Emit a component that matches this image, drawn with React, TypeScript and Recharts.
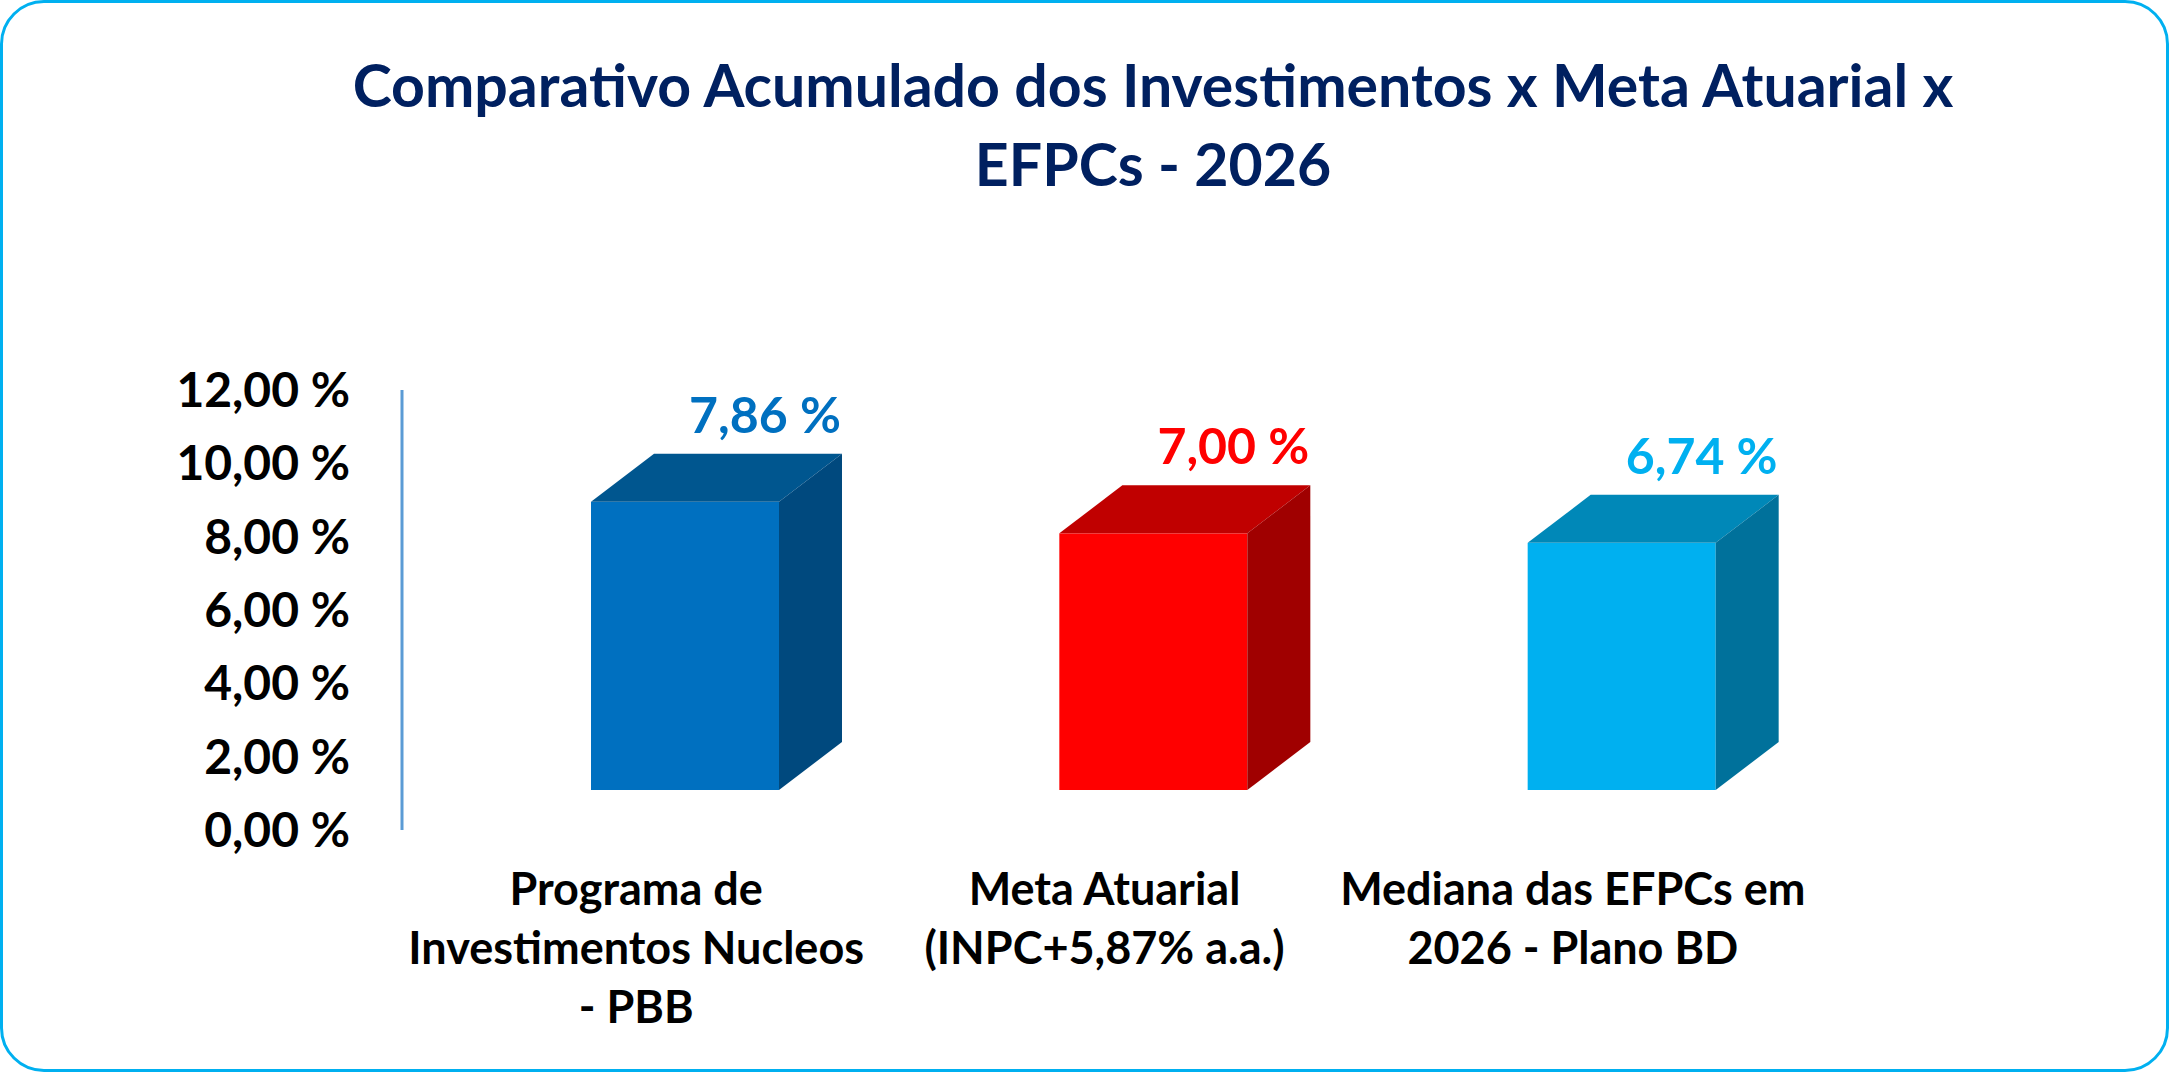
import { BarChart, Bar, XAxis, YAxis, LabelList, Cell } from 'recharts';

const TITLE_LINES = ['Comparativo Acumulado dos Investimentos x Meta Atuarial x', 'EFPCs - 2026'];
const CATEGORIES = [
    'Programa de\nInvestimentos Nucleos\n- PBB',
    'Meta Atuarial\n(INPC+5,87% a.a.)',
    'Mediana das EFPCs em\n2026 - Plano BD',
];
const VALUES = [7.86, 7.0, 6.74];
const Y_TICKS = [0, 2, 4, 6, 8, 10, 12];

// front / top / side shades for each box
const PALETTE = [
    { front: '#0070C0', top: '#00568F', side: '#00497E', label: '#0070C0' },
    { front: '#FF0000', top: '#C00000', side: '#A00000', label: '#FF0000' },
    { front: '#00B0F0', top: '#0088B8', side: '#00719B', label: '#00B0F0' },
];

const FONT = 'Lato, "Open Sans", sans-serif';
const W = 2169;
const H = 1072;

// excel-like 3d projection
const SHIFT_X = 49;
const FLOOR = 40;
const DEPTH_X = 63;
const DEPTH_Y = 48;

const data = CATEGORIES.map((name, i) => ({ name, value: VALUES[i] }));

const fmt = (v: number) => v.toFixed(2).replace('.', ',') + ' %';

function Box3D(props: any) {
    const { x, y, width, height, index } = props;
    const c = PALETTE[index];
    const fx = x + SHIFT_X;
    const fy = y - FLOOR;
    const r = fx + width;
    const b = fy + height;
    return (
        <g>
            <rect x={fx} y={fy} width={width} height={height} fill={c.front} />
            <polygon
                points={`${fx},${fy} ${fx + DEPTH_X},${fy - DEPTH_Y} ${r + DEPTH_X},${fy - DEPTH_Y} ${r},${fy}`}
                fill={c.top}
            />
            <polygon
                points={`${r},${fy} ${r + DEPTH_X},${fy - DEPTH_Y} ${r + DEPTH_X},${b - DEPTH_Y} ${r},${b}`}
                fill={c.side}
            />
        </g>
    );
}

function ValueLabel(props: any) {
    const { x, y, width, value, index } = props;
    const cx = x + width / 2 + SHIFT_X + 80;
    const by = y - FLOOR - DEPTH_Y - 21;
    return (
        <text x={cx} y={by} textAnchor="middle" fill={PALETTE[index].label}
            style={{ fontFamily: FONT, fontWeight: 700, fontSize: 50 }}>
            {fmt(value)}
        </text>
    );
}

function CategoryTick(props: any) {
    const { x, y, payload } = props;
    const lines = String(payload.value).split('\n');
    return (
        <text x={x} y={y + 73} textAnchor="middle" fill="#000"
            style={{ fontFamily: FONT, fontWeight: 700, fontSize: 45 }}>
            {lines.map((l, i) => (
                <tspan key={i} x={x} dy={i === 0 ? 0 : 59}>{l}</tspan>
            ))}
        </text>
    );
}

function ValueTick(props: any) {
    const { x, y, payload } = props;
    return (
        <text x={x} y={y + 17} textAnchor="end" fill="#000"
            style={{ fontFamily: FONT, fontWeight: 700, fontSize: 48 }}>
            {fmt(payload.value)}
        </text>
    );
}

export default function App() {
    return (
        <div style={{
            position: 'absolute', left: 0, top: 0, width: W, height: H,
            boxSizing: 'border-box', border: '3px solid #00B0F0', borderRadius: 44,
            background: '#fff', overflow: 'hidden',
        }}>
            <svg width={W} height={H} style={{ position: 'absolute', left: -3, top: -3 }}>
                {TITLE_LINES.map((t, i) => (
                    <text key={i} x={1153} y={107 + i * 79} textAnchor="middle" fill="#002060"
                        style={{ fontFamily: FONT, fontWeight: 700, fontSize: 59 }}>
                        {t}
                    </text>
                ))}
            </svg>
            <div style={{ position: 'absolute', left: -3, top: -3 }}>
                <BarChart width={W} height={H} data={data}
                    margin={{ top: 390, right: 362, bottom: 0, left: 202 }}>
                    <XAxis dataKey="name" axisLine={false} tickLine={false} tickSize={0}
                        height={242} interval={0} tick={<CategoryTick />} />
                    <YAxis domain={[0, 12]} ticks={Y_TICKS} width={200} tickLine={false} tickSize={0}
                        tickMargin={52} axisLine={{ stroke: '#5B9BD5', strokeWidth: 3 }}
                        tick={<ValueTick />} />
                    <Bar dataKey="value" barSize={188} shape={<Box3D />} isAnimationActive={false}>
                        {data.map((d, i) => (
                            <Cell key={`cell-${i}`} fill={PALETTE[i].front} />
                        ))}
                        <LabelList dataKey="value" content={<ValueLabel />} />
                    </Bar>
                </BarChart>
            </div>
        </div>
    );
}
